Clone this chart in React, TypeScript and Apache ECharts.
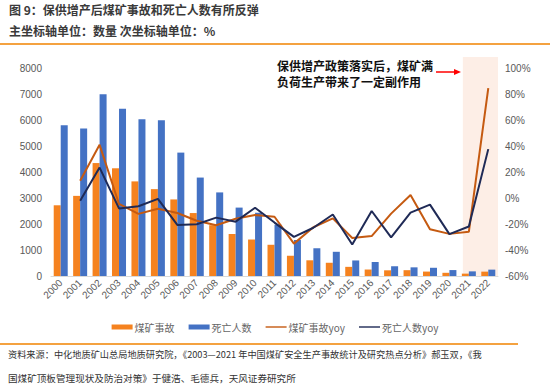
import React, { useEffect, useRef } from "react";
import * as echarts from "echarts";

const years = ["2000","2001","2002","2003","2004","2005","2006","2007","2008","2009","2010","2011","2012","2013","2014","2015","2016","2017","2018","2019","2020","2021","2022"];
const accidents = [2720, 3082, 4344, 4143, 3639, 3341, 2945, 2421, 1954, 1616, 1403, 1201, 779, 604, 509, 352, 249, 219, 224, 170, 123, 91, 168];
const deaths = [5798, 5670, 6995, 6434, 6027, 5986, 4746, 3786, 3215, 2631, 2433, 1973, 1384, 1067, 931, 598, 538, 375, 333, 316, 228, 178, 245];
const accidentsYoy = [null, 13.3, 40.9, -4.6, -12.2, -8.2, -11.5, -17.5, -21.0, -16.0, -13.0, -14.4, -35.1, -22.5, -15.7, -30.8, -29.3, -12.0, 2.3, -24.1, -27.6, -26.0, 84.6];
const deathsYoy = [null, -2.2, 23.4, -8.0, -6.3, -0.7, -20.7, -20.2, -15.1, -18.2, -7.5, -18.9, -29.9, -22.9, -12.7, -35.8, -10.0, -30.3, -11.2, -5.1, -27.8, -21.9, 37.6];

const seriesNames = ["煤矿事故", "死亡人数", "煤矿事故yoy", "死亡人数yoy"];
const titleText = "图 9：保供增产后煤矿事故和死亡人数有所反弹";
const subTitleText = "主坐标轴单位：数量 次坐标轴单位：%";
const noteLines = ["保供增产政策落实后，煤矿满", "负荷生产带来了一定副作用"];
const sourceLines = [
  "资料来源：中化地质矿山总局地质研究院，《2003—2021 年中国煤矿安全生产事故统计及研究热点分析》郝玉双，《我",
  "国煤矿顶板管理现状及防治对策》于健浩、毛德兵，天风证券研究所",
];

const CJK = '"Noto Sans CJK SC", "Noto Sans", sans-serif';
const NUM = 'Arial, "Liberation Sans", "Noto Sans CJK SC", sans-serif';
const LINE_ICON = "path://M0,0L0,0M21,5L21,5M0,1.8H21V3.2H0Z";

export default function App() {
  const ref = useRef<HTMLDivElement>(null);
  useEffect(() => {
    if (!ref.current) return;
    const chart = echarts.init(ref.current, null, { renderer: "svg" });
    const gridTop = 68;
    const gridBottom = 113;
    chart.setOption({
      animation: false,
      backgroundColor: "#ffffff",
      grid: { left: 51, right: 52, top: gridTop, bottom: gridBottom },
      legend: {
        left: "center",
        top: 317,
        itemWidth: 21,
        itemHeight: 5,
        itemGap: 14,
        itemStyle: { borderWidth: 0 },
        textStyle: { fontSize: 10, color: "#666666", fontFamily: CJK, padding: [0, 0, 0, -3] },
        data: [
          { name: seriesNames[0], icon: "rect" },
          { name: seriesNames[1], icon: "rect" },
          { name: seriesNames[2], icon: LINE_ICON, itemStyle: { color: "#c55a11", borderWidth: 0 } },
          { name: seriesNames[3], icon: LINE_ICON, itemStyle: { color: "#1f2a56", borderWidth: 0 } },
        ],
      },
      xAxis: {
        type: "category",
        data: years,
        axisLine: { lineStyle: { color: "#d9d9d9" } },
        axisTick: { show: false },
        axisLabel: { rotate: 45, interval: 0, fontSize: 10, color: "#595959", fontFamily: NUM, margin: 5 },
      },
      yAxis: [
        {
          type: "value",
          min: 0,
          max: 8000,
          interval: 1000,
          splitLine: { show: false },
          axisLine: { show: false },
          axisTick: { show: false },
          axisLabel: { fontSize: 10, color: "#595959", fontFamily: NUM, margin: 9, formatter: (v: number) => String(v) },
        },
        {
          type: "value",
          min: -60,
          max: 100,
          interval: 20,
          splitLine: { show: false },
          axisLine: { show: false },
          axisTick: { show: false },
          axisLabel: { fontSize: 10, color: "#595959", fontFamily: NUM, margin: 7, formatter: "{value}%" },
        },
      ],
      series: [
        {
          name: seriesNames[0],
          type: "bar",
          data: accidents,
          barWidth: 7,
          barGap: "0%",
          itemStyle: { color: "#f5821f" },
          z: 2,
        },
        {
          name: seriesNames[1],
          type: "bar",
          data: deaths,
          barWidth: 7,
          barGap: "0%",
          itemStyle: { color: "#4472c4" },
          z: 2,
        },
        {
          name: seriesNames[2],
          type: "line",
          yAxisIndex: 1,
          data: accidentsYoy,
          symbol: "none",
          lineStyle: { color: "#c55a11", width: 2 },
          itemStyle: { color: "#c55a11" },
          z: 3,
        },
        {
          name: seriesNames[3],
          type: "line",
          yAxisIndex: 1,
          data: deathsYoy,
          symbol: "none",
          lineStyle: { color: "#1f2a56", width: 2 },
          itemStyle: { color: "#1f2a56" },
          z: 4,
        },
      ],
    });

    const x2021 = chart.convertToPixel({ xAxisIndex: 0 }, "2021") as number;
    const x2022 = chart.convertToPixel({ xAxisIndex: 0 }, "2022") as number;
    const step = x2022 - x2021;
    const shadeLeft = x2021 - 6;
    const shadeRight = x2022 + step / 2;

    chart.setOption({
      graphic: [
        {
          type: "rect",
          z: -10,
          shape: { x: shadeLeft, y: 57, width: shadeRight - shadeLeft, height: 220 },
          style: { fill: "#fdeee6" },
          silent: true,
        },
        {
          type: "text",
          left: 9,
          top: 3,
          style: { text: titleText, fontSize: 12, fontWeight: "bold", fill: "#3a3a3a", fontFamily: CJK },
        },
        {
          type: "text",
          left: 9,
          top: 24,
          style: { text: subTitleText, fontSize: 12, fontWeight: "bold", fill: "#3a3a3a", fontFamily: CJK },
        },
        {
          type: "line",
          shape: { x1: 0, y1: 44, x2: 550, y2: 44 },
          style: { stroke: "#f08300", lineWidth: 1.5 },
        },
        {
          type: "text",
          left: 277,
          top: 59,
          style: { text: noteLines[0], fontSize: 12, fontWeight: "bold", fill: "#111111", fontFamily: CJK },
        },
        {
          type: "text",
          left: 277,
          top: 75,
          style: { text: noteLines[1], fontSize: 12, fontWeight: "bold", fill: "#111111", fontFamily: CJK },
        },
        {
          type: "line",
          shape: { x1: 436, y1: 72, x2: 455, y2: 72 },
          style: { stroke: "#ff0000", lineWidth: 1.5 },
        },
        {
          type: "polygon",
          shape: { points: [[454, 69], [461, 72], [454, 75]] },
          style: { fill: "#ff0000" },
        },
        {
          type: "line",
          shape: { x1: 0, y1: 344, x2: 518, y2: 344 },
          style: { stroke: "#f08300", lineWidth: 1.5 },
        },
        {
          type: "text",
          left: 8,
          top: 349,
          style: { text: sourceLines[0], fontSize: 9.2, fill: "#333333", fontFamily: CJK },
        },
        {
          type: "text",
          left: 8,
          top: 373,
          style: { text: sourceLines[1], fontSize: 9.6, fill: "#333333", fontFamily: CJK },
        },
      ],
    });

    return () => chart.dispose();
  }, []);
  return (
    <div
      ref={ref}
      style={{ position: "fixed", left: 0, top: 0, width: 550, height: 389, background: "#fff" }}
    />
  );
}
